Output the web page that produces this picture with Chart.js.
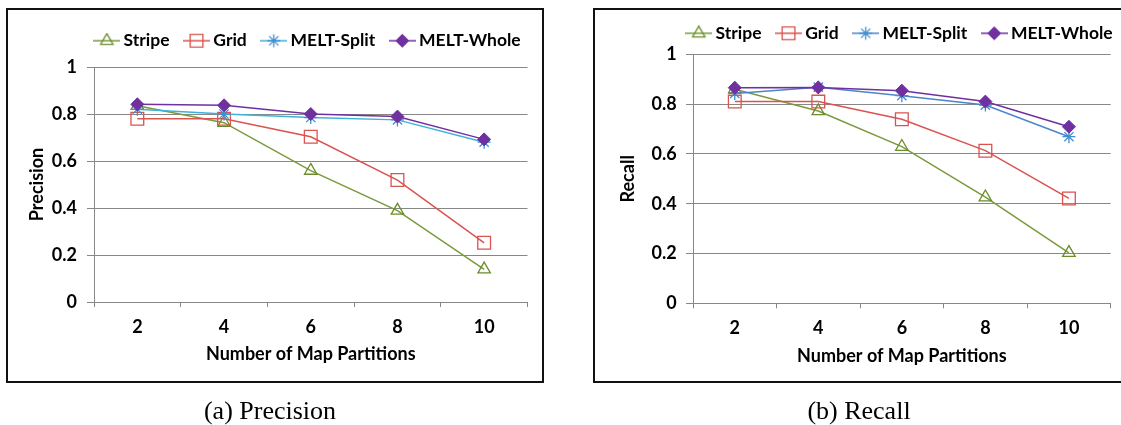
<!DOCTYPE html>
<html><head><meta charset="utf-8">
<script src="https://cdn.jsdelivr.net/npm/chart.js@4.4.1/dist/chart.umd.min.js"></script>
<style>
html,body{margin:0;padding:0;background:#fff;width:1121px;height:425px;overflow:hidden;position:relative}
.box{position:absolute;border:2px solid #111;box-sizing:border-box}
canvas{position:absolute;left:0;top:0}
.cap{position:absolute;font-family:"Liberation Serif","Times New Roman",serif;font-size:26px;color:#000;transform:translateX(-50%);white-space:nowrap;line-height:30px}
</style></head><body>
<div class="box" style="left:6px;top:8px;width:538px;height:375px"></div>
<div class="box" style="left:593px;top:8px;width:540px;height:375px"></div>
<canvas id="c1" width="1121" height="425"></canvas>
<canvas id="c2" width="1121" height="425"></canvas>
<div class="cap" style="left:270px;top:396px">(a) Precision</div>
<div class="cap" style="left:859px;top:396px">(b) Recall</div>
<script>
// ---- data ----
const categories = ['2', '4', '6', '8', '10'];
const yTicks = [0, 0.2, 0.4, 0.6, 0.8, 1];
const seriesNames = ['Stripe', 'Grid', 'MELT-Split', 'MELT-Whole'];
const precisionStripe = [0.835, 0.763, 0.559, 0.389, 0.139];
const precisionGrid   = [0.78, 0.78, 0.703, 0.519, 0.252];
const precisionSplit  = [0.82, 0.80, 0.785, 0.775, 0.68];
const precisionWhole  = [0.841, 0.837, 0.80, 0.789, 0.692];
const recallStripe = [0.86, 0.772, 0.629, 0.426, 0.203];
const recallGrid   = [0.81, 0.81, 0.739, 0.613, 0.421];
const recallSplit  = [0.843, 0.868, 0.834, 0.796, 0.669];
const recallWhole  = [0.866, 0.867, 0.854, 0.81, 0.709];

const FONT = 'Lato, "Open Sans", sans-serif';
const GRID = '#888888';

function legendIcon(st) {
  const c = document.createElement('canvas');
  c.width = 27; c.height = 16;
  const x = c.getContext('2d');
  x.strokeStyle = st.line; x.lineWidth = 1.5;
  x.beginPath(); x.moveTo(0, 8); x.lineTo(27, 8); x.stroke();
  x.strokeStyle = st.mark; x.fillStyle = st.fill; x.lineWidth = st.bw;
  Chart.helpers.drawPoint(x, {pointStyle: st.style, radius: st.r, borderWidth: st.bw, rotation: 0}, 13.5, 8);
  return c;
}

const legendShift = {
  id: 'legendShift',
  afterLayout(chart, args, opts) {
    const lg = chart.legend;
    lg.left += opts.dx; lg.right += opts.dx;
    lg.top += opts.dy; lg.bottom += opts.dy;
  }
};

function makeChart(id, vals, styles, cfg) {
  const datasets = vals.map((v, i) => {
    const st = styles[i];
    return {
      label: seriesNames[i], data: v,
      borderColor: st.line, borderWidth: 1.5, tension: 0,
      pointStyle: st.style, pointRadius: st.r, pointBorderWidth: st.bw,
      pointBorderColor: st.mark, pointBackgroundColor: st.fill,
      order: 3 - i, fill: false
    };
  });
  return new Chart(document.getElementById(id), {
    type: 'line',
    data: {labels: categories, datasets},
    options: {
      responsive: false, animation: false, devicePixelRatio: 1, events: [],
      layout: {padding: cfg.padding},
      plugins: {
        tooltip: {enabled: false},
        legendShift: cfg.shift,
        legend: {
          position: 'top',
          labels: {
            usePointStyle: true, pointStyleWidth: 16, padding: 19, color: '#000',
            font: {family: FONT, size: 17.5, weight: 'bold'},
            generateLabels: ch => ch.data.datasets.map((d, i) => ({
              text: d.label, pointStyle: legendIcon(styles[i]), fillStyle: 'transparent',
              strokeStyle: 'transparent', lineWidth: 0, hidden: false, datasetIndex: i, fontColor: '#000'
            }))
          }
        }
      },
      scales: {
        x: {
          type: 'category', offset: true,
          grid: {display: true, offset: true, drawOnChartArea: false, drawTicks: true, tickLength: 5, color: GRID, lineWidth: 1},
          border: {display: true, color: GRID, width: 1},
          ticks: {color: '#000', padding: 9.2, font: {family: FONT, size: 18, weight: 'bold'}, maxRotation: 0},
          title: {display: true, text: 'Number of Map Partitions', color: '#000', padding: 0, font: {family: FONT, size: 18, weight: 'bold'}},
          afterFit: s => { s.height = cfg.xh; }
        },
        y: {
          min: 0, max: 1,
          afterBuildTicks: s => { s.ticks = yTicks.map(v => ({value: v})); },
          grid: {color: GRID, lineWidth: 1, tickLength: 7, drawTicks: true},
          border: {display: true, color: GRID, width: 1},
          ticks: {color: '#000', padding: cfg.ypad, font: {family: FONT, size: 18, weight: 'bold'}, callback: v => String(+(+v).toFixed(1))},
          title: {display: true, text: cfg.ytitle, color: '#000', padding: {top: 5.9, bottom: 0}, font: {family: FONT, size: 18, weight: 'bold'}},
          afterFit: s => { s.width = cfg.yw; }
        }
      }
    },
    plugins: [legendShift]
  });
}

const stylesLeft = [
  {line: '#7a9a3c', mark: '#6b8c2c', fill: 'rgba(0,0,0,0)', style: 'triangle', r: 7.2, bw: 1.3},
  {line: '#d9534f', mark: '#d9534f', fill: 'rgba(0,0,0,0)', style: 'rect', r: 9, bw: 1.3},
  {line: '#3fb0d8', mark: '#3f8fd0', fill: 'rgba(0,0,0,0)', style: 'star', r: 6.5, bw: 1.3},
  {line: '#7030a0', mark: '#7030a0', fill: '#7030a0', style: 'rectRot', r: 6.5, bw: 1}
];
const stylesRight = [
  {line: '#7a9a3c', mark: '#6b8c2c', fill: 'rgba(0,0,0,0)', style: 'triangle', r: 7.2, bw: 1.3},
  {line: '#d9534f', mark: '#d9534f', fill: 'rgba(0,0,0,0)', style: 'rect', r: 9, bw: 1.3},
  {line: '#4a86c8', mark: '#3f8fd0', fill: 'rgba(0,0,0,0)', style: 'star', r: 6.5, bw: 1.3},
  {line: '#7030a0', mark: '#7030a0', fill: '#7030a0', style: 'rectRot', r: 6.5, bw: 1}
];

makeChart('c1', [precisionStripe, precisionGrid, precisionSplit, precisionWhole], stylesLeft, {
  padding: {left: 20, right: 593.5, top: 20.5, bottom: 60.2},
  xh: 62.8, yw: 74, ypad: 10, ytitle: 'Precision', shift: {dx: 36, dy: -7.55}
});
makeChart('c2', [recallStripe, recallGrid, recallSplit, recallWhole], stylesRight, {
  padding: {left: 611.4, right: 1, top: 7.8, bottom: 58.5},
  xh: 63.2, yw: 81.6, ypad: 9.3, ytitle: 'Recall', shift: {dx: 36, dy: -2.25}
});
</script>
</body></html>
